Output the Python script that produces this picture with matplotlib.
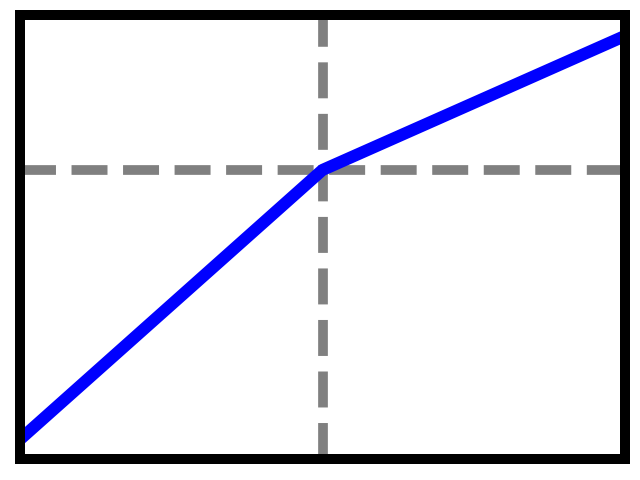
import matplotlib
matplotlib.use("Agg")
import matplotlib.pyplot as plt

# Data
x = [0, 1, 2]
y = [0.044, 0.651, 0.953]
x_mark = 1
y_mark = 0.651

fig = plt.figure(figsize=(6.4, 4.8), dpi=100)
ax = fig.add_axes([20 / 640, 21 / 480, 605 / 640, 444 / 480])

# Reference lines
ax.axvline(x_mark, color="gray", linestyle="--", linewidth=7, zorder=1)
ax.axhline(y_mark, color="gray", linestyle="--", linewidth=7, zorder=1)

# Main curve
ax.plot(x, y, color="blue", linewidth=8.7, zorder=2)

ax.set_xlim(0, 2)
ax.set_ylim(0, 1)
ax.set_xticks([])
ax.set_yticks([])
for s in ax.spines.values():
    s.set_linewidth(7.2)
    s.set_color("black")
    s.set_zorder(3)

fig.savefig("out.png", dpi=100)
